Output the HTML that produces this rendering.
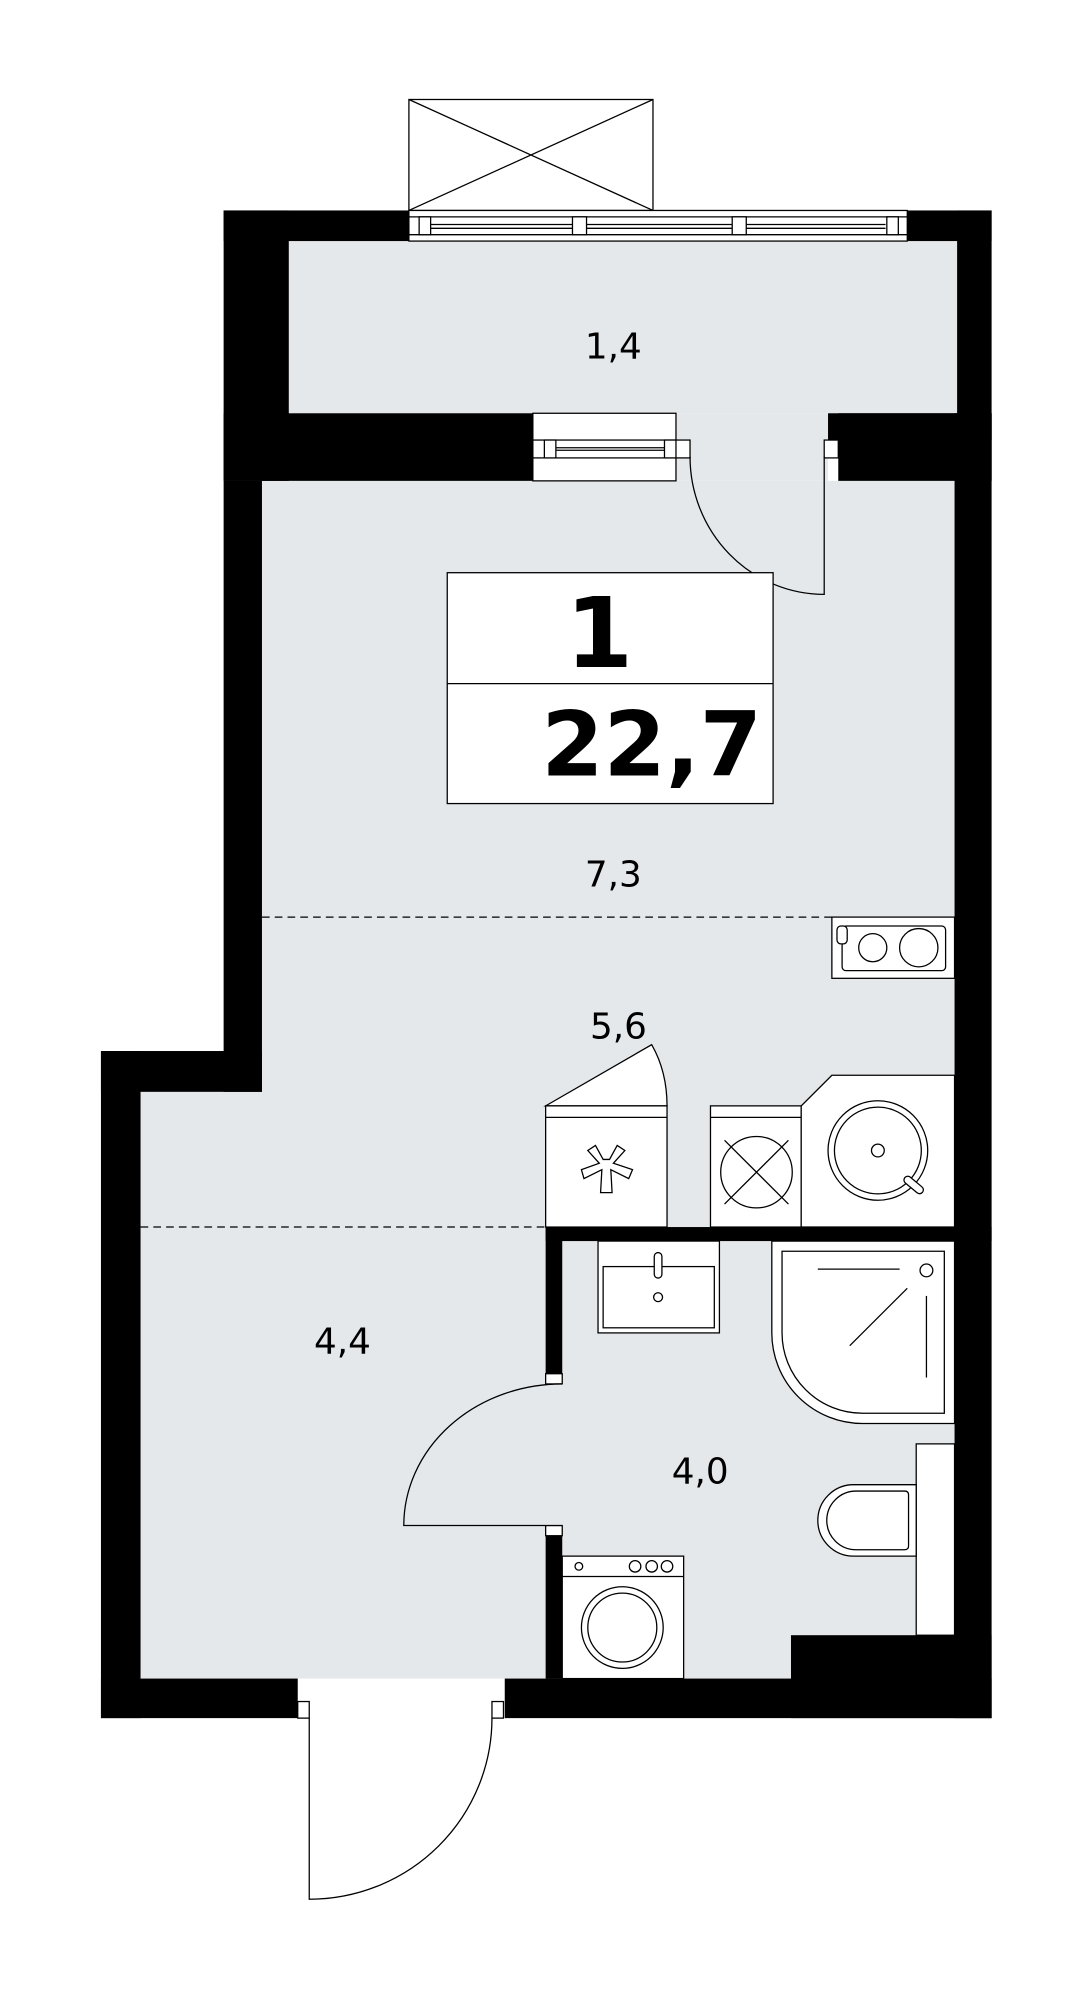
<!DOCTYPE html>
<html><head><meta charset="utf-8"><style>
html,body{margin:0;padding:0;background:#fff;}
svg{display:block;}
text{font-family:"DejaVu Sans","Liberation Sans",sans-serif;}
</style></head><body>
<svg width="1090" height="2000" viewBox="0 0 853 1568" preserveAspectRatio="none" xmlns="http://www.w3.org/2000/svg">
<g stroke="#000" stroke-width="1" fill="none">
<rect x="226" y="189" width="523" height="135" fill="#e5e8eb" stroke="none"/>
<rect x="205" y="377" width="542" height="585" fill="#e5e8eb" stroke="none"/>
<rect x="529" y="324" width="119" height="53" fill="#e5e8eb" stroke="none"/>
<rect x="110" y="856" width="317" height="460" fill="#e5e8eb" stroke="none"/>
<rect x="427" y="962" width="320" height="354" fill="#e5e8eb" stroke="none"/>
<rect x="440" y="973" width="307" height="343" fill="#e5e8eb" stroke="none"/>
</g>
<g fill="#000">
<rect x="175" y="165" width="145" height="24"/>
<rect x="710" y="165" width="66" height="24"/>
<rect x="175" y="165" width="51" height="212"/>
<rect x="749" y="165" width="27" height="212"/>
<rect x="175" y="324" width="242" height="53"/>
<rect x="648" y="324" width="128" height="21"/>
<rect x="656" y="324" width="120" height="53"/>
<rect x="747" y="324" width="29" height="1023"/>
<rect x="175" y="377" width="30" height="479"/>
<rect x="79" y="824" width="126" height="32"/>
<rect x="79" y="824" width="31" height="523"/>
<rect x="79" y="1316" width="154" height="31"/>
<rect x="395" y="1316" width="381" height="31"/>
<rect x="427" y="962" width="349" height="11"/>
<rect x="427" y="962" width="13" height="123"/>
<rect x="427" y="1196" width="13" height="120"/>
<rect x="619" y="1282" width="157" height="65"/>
</g>
<g stroke="#000" stroke-width="1" fill="#fff">
<rect x="320" y="78" width="191" height="87"/>
<line x1="320" y1="78" x2="511" y2="165"/><line x1="511" y1="78" x2="320" y2="165"/>
<rect x="320" y="165" width="390" height="24"/>
<line x1="320" y1="170" x2="710" y2="170"/><line x1="320" y1="184" x2="710" y2="184"/>
<line x1="337" y1="176" x2="693" y2="176"/><line x1="337" y1="179" x2="693" y2="179"/>
<rect x="328" y="170" width="9" height="14"/><rect x="448" y="170" width="11" height="14"/><rect x="573" y="170" width="11" height="14"/><rect x="694" y="170" width="9" height="14"/>
<rect x="417" y="324" width="112" height="53"/>
<rect x="417" y="345" width="123" height="14"/>
<line x1="426" y1="351" x2="529" y2="351"/><line x1="426" y1="353" x2="529" y2="353"/>
<rect x="426" y="345" width="9" height="14"/><rect x="520" y="345" width="9" height="14"/>
<rect x="645" y="345" width="11" height="14"/>
<path d="M540 358 A105 108 0 0 0 645 466 L645 358" fill="none"/>
<rect x="350" y="449" width="255" height="181"/>
<line x1="350" y1="536" x2="605" y2="536"/>
<line x1="205" y1="719" x2="747" y2="719" stroke-dasharray="6,4" fill="none"/>
<line x1="110" y1="962" x2="427" y2="962" stroke-dasharray="6,4" fill="none"/>
<rect x="651" y="719" width="96" height="48"/>
<rect x="659" y="726" width="81" height="35" rx="3"/>
<rect x="655" y="726" width="8" height="14" rx="3"/>
<circle cx="683" cy="743" r="11"/><circle cx="719" cy="743" r="15"/>
<path d="M427 867 L510 819 Q522 840 522 867 Z"/>
<rect x="427" y="867" width="95" height="95"/>
<line x1="427" y1="876" x2="522" y2="876"/>
<path d="M472 912 L466 901 L460 905 L469 915 L455 920 L457 927 L471 920 L470 938 L479 938 L478 920 L492 927 L495 920 L480 915 L489 905 L483 901 L477 912 Z" transform="translate(0,-3)"/>
<rect x="556" y="867" width="71" height="95"/>
<line x1="556" y1="876" x2="627" y2="876"/>
<ellipse cx="592" cy="919" rx="28" ry="28"/>
<line x1="567" y1="894" x2="617" y2="944"/><line x1="617" y1="894" x2="567" y2="944"/>
<path d="M627 962 L627 867 L651 843 L747 843 L747 962 Z"/>
<circle cx="687" cy="902" r="39"/><circle cx="687" cy="902" r="34"/>
<circle cx="687" cy="902" r="5"/>
<rect x="706" y="926" width="18" height="6" rx="3" transform="rotate(40 715 929)"/>
<rect x="468" y="973" width="95" height="72"/>
<rect x="472" y="993" width="87" height="48"/>
<rect x="512" y="982" width="6" height="20" rx="3"/>
<circle cx="515" cy="1017" r="3.5"/>
<path d="M604 973 L747 973 L747 1116 L675 1116 A71 71 0 0 1 604 1045 Z"/>
<path d="M612 981 L739 981 L739 1108 L675 1108 A63 63 0 0 1 612 1045 Z"/>
<line x1="640" y1="995" x2="704" y2="995"/><line x1="710" y1="1010" x2="665" y2="1055"/><line x1="725" y1="1016" x2="725" y2="1080"/>
<circle cx="725" cy="996" r="5"/>
<rect x="717" y="1132" width="30" height="150"/>
<path d="M717 1164 L668 1164 A28 28 0 0 0 668 1220 L717 1220 Z"/>
<path d="M708 1169 L670 1169 A23 23 0 0 0 670 1215 L708 1215 Q711 1215 711 1212 L711 1172 Q711 1169 708 1169 Z"/>
<rect x="440" y="1220" width="95" height="96"/>
<line x1="440" y1="1236" x2="535" y2="1236"/>
<circle cx="453" cy="1228" r="3"/><circle cx="497" cy="1228" r="4.5"/><circle cx="510" cy="1228" r="4.5"/><circle cx="522" cy="1228" r="4.5"/>
<circle cx="487" cy="1276" r="32"/><circle cx="487" cy="1276" r="27"/>
<rect x="427" y="1077" width="13" height="8"/><rect x="427" y="1196" width="13" height="8"/>
<path d="M440 1085 A124 111 0 0 0 316 1196 L440 1196" fill="#e5e8eb"/>
<rect x="233" y="1334" width="9" height="13"/><rect x="385" y="1334" width="9" height="13"/>
<path d="M242 1347 L242 1489 A143 142 0 0 0 385 1347" fill="none"/>
</g>
<g fill="#000" font-size="28" text-anchor="middle">
<text x="480" y="281">1,4</text>
<text x="480" y="695">7,3</text>
<text x="484" y="814">5,6</text>
<text x="268" y="1061">4,4</text>
<text x="548" y="1163">4,0</text>
<text x="469" y="523" font-size="76" font-weight="bold">1</text>
<text x="510" y="608" font-size="70" font-weight="bold">22,7</text>
</g>
</svg>
</body></html>
